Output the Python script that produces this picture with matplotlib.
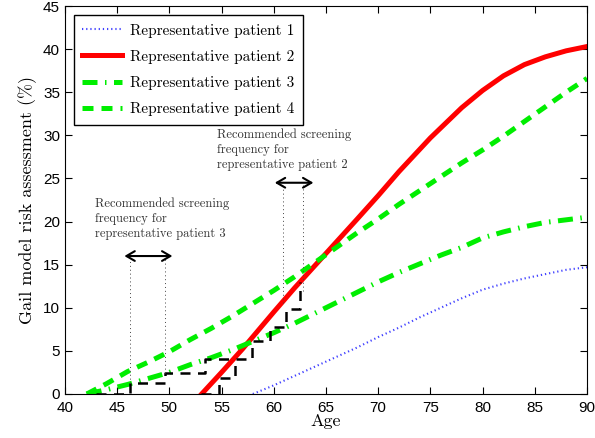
import matplotlib
matplotlib.use('Agg')
import matplotlib.pyplot as plt
import numpy as np

# Representative patient 1 (blue dotted)
age1 = [58, 60, 62, 64, 66, 68, 70, 72, 74, 76, 78, 80, 82, 84, 86, 88, 90]
risk1 = [0, 1.0, 2.1, 3.2, 4.3, 5.4, 6.6, 7.7, 8.9, 10.0, 11.1, 12.1, 12.8, 13.4, 13.9, 14.4, 14.7]

# Representative patient 2 (red solid)
age2 = [53.1, 55, 57, 60, 62, 65, 68, 70, 72, 75, 78, 80, 82, 84, 86, 88, 90]
risk2 = [0, 2.5, 5.2, 9.5, 12.3, 16.3, 20.3, 23.0, 25.8, 29.7, 33.2, 35.2, 36.9, 38.2, 39.1, 39.8, 40.3]

# Representative patient 3 (green dash-dot)
age3 = [42.1, 44, 46, 48, 50, 52, 54, 56, 58, 60, 62, 64, 66, 68, 70, 72, 74, 76, 78, 80, 82, 84, 86, 88, 90]
risk3 = [0, 0.5, 1.1, 1.8, 2.5, 3.4, 4.2, 5.1, 6.1, 7.1, 8.2, 9.4, 10.6, 11.8, 13.0, 14.1, 15.1, 16.1, 17.0,
         18.1, 18.8, 19.4, 19.9, 20.2, 20.5]

# Representative patient 4 (green dashed)
age4 = [42.1, 44, 46, 48, 50, 52, 54, 56, 58, 60, 62, 64, 66, 68, 70, 72, 74, 76, 78, 80, 82, 84, 86, 88, 90]
risk4 = [0, 1.2, 2.6, 3.7, 4.9, 6.3, 7.6, 9.0, 10.5, 12.0, 13.6, 15.3, 17.0, 18.7, 20.3, 22.0, 23.6, 25.2,
         26.8, 28.3, 29.9, 31.6, 33.3, 35.0, 36.6]

# screening staircases (black dashed)
step_a_x = [43, 46.2, 46.2, 49.6, 49.6, 53.4, 53.4, 57.9, 57.9, 59.6, 59.6, 61.2, 61.2, 62.5, 62.5]
step_a_y = [0, 0, 1.25, 1.25, 2.4, 2.4, 4.0, 4.0, 6.1, 6.1, 7.8, 7.8, 9.9, 9.9, 13.0]
step_b_x = [53, 54.8, 54.8, 56.3, 56.3]
step_b_y = [0, 0, 1.8, 1.8, 4.0]

# recommended screening intervals
p3_lines = [46.2, 49.6]
p3_bottom = [1.25, 2.4]
p3_arrow = [45.7, 50.3]
p3_level = 16
p2_lines = [60.9, 62.8]
p2_bottom = [10.6, 11.9]
p2_arrow = [60.1, 63.8]
p2_level = 24.5

serif = 'cmr10'

fig = plt.figure(figsize=(5.95, 4.38), dpi=100)
ax = fig.add_axes([0.109, 0.1005, 0.8776, 0.8858])

ax.plot(age1, risk1, color='#4040ff', linewidth=1.5, linestyle=(0, (0.6, 1.4)), label='Representative patient 1')
ax.plot(age2, risk2, color='#ff0000', linewidth=3.6, label='Representative patient 2')
ax.plot(age3, risk3, color='#00ee00', linewidth=3.6, linestyle=(0, (3, 1.5, 0.3, 1.5)), label='Representative patient 3')
ax.plot(age4, risk4, color='#00ee00', linewidth=3.6, linestyle=(0, (2.2, 1.6)), label='Representative patient 4')

ax.plot(step_a_x, step_a_y, color='k', linewidth=1.8, linestyle=(0, (4, 3)))
ax.plot(step_b_x, step_b_y, color='k', linewidth=1.8, linestyle=(0, (4, 3)))

for xv, yb in zip(p3_lines, p3_bottom):
    ax.plot([xv, xv], [yb, p3_level], color='#444444', linewidth=0.7, linestyle=(0, (1, 3)))
for xv, yb in zip(p2_lines, p2_bottom):
    ax.plot([xv, xv], [yb, p2_level], color='#444444', linewidth=0.7, linestyle=(0, (1, 3)))

arrow = dict(arrowstyle='<->,head_length=0.6,head_width=0.35', color='k', linewidth=1.5, shrinkA=0, shrinkB=0)
ax.annotate('', xy=(p3_arrow[0], p3_level), xytext=(p3_arrow[1], p3_level), arrowprops=arrow)
ax.annotate('', xy=(p2_arrow[0], p2_level), xytext=(p2_arrow[1], p2_level), arrowprops=arrow)

ax.text(42.9, 22.8, 'Recommended screening\nfrequency for\nrepresentative patient 3',
        fontfamily=serif, fontsize=9, va='top', ha='left', color='#333333', linespacing=1.3)
ax.text(54.6, 30.8, 'Recommended screening\nfrequency for\nrepresentative patient 2',
        fontfamily=serif, fontsize=9, va='top', ha='left', color='#333333', linespacing=1.3)

ax.set_xlim(40, 90)
ax.set_ylim(0, 45)
ax.set_xticks(np.arange(40, 91, 5))
ax.set_yticks(np.arange(0, 46, 5))
ax.tick_params(direction='in', top=True, right=True, length=5, labelsize=11)
ax.tick_params(axis='x', pad=5)
for lab in ax.get_xticklabels() + ax.get_yticklabels():
    lab.set_fontfamily('Liberation Sans')

ax.set_xlabel('Age', fontfamily=serif, fontsize=13, labelpad=-1)
ax.set_ylabel('Gail model risk assessment (%)', fontfamily=serif, fontsize=13, labelpad=4)

leg = ax.legend(loc='upper left', prop={'family': serif, 'size': 11}, handlelength=2.6,
                labelspacing=0.8, fancybox=False, edgecolor='k', framealpha=1,
                borderaxespad=0.6, borderpad=0.55, handletextpad=0.5)
leg.get_frame().set_linewidth(1.0)

fig.savefig('out.png', dpi=100)
